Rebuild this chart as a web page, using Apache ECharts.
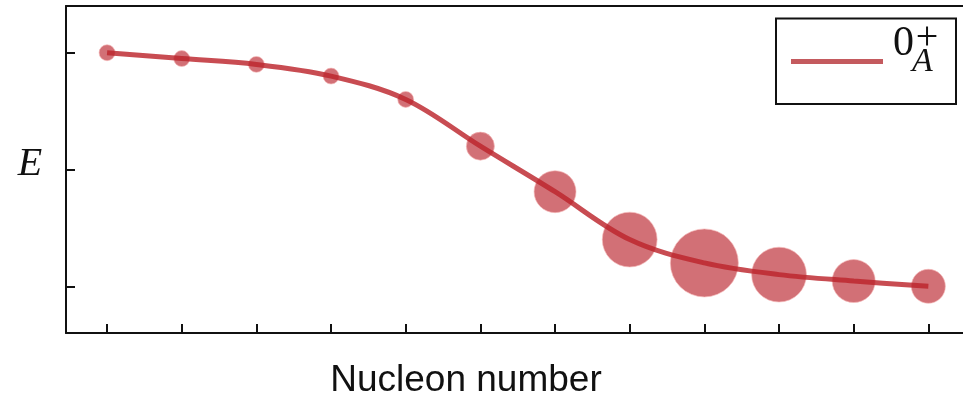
<!DOCTYPE html>
<html>
<head>
<meta charset="utf-8">
<script src="https://cdn.jsdelivr.net/npm/echarts@6/dist/echarts.min.js"></script>
<style>
  html, body { margin: 0; padding: 0; background: #fff; }
  #chart { width: 963px; height: 401px; }
</style>
</head>
<body>
<div id="chart"></div>
<script>
// Nucleon-number index along the chain
const nucleonIndex = [1, 2, 3, 4, 5, 6, 7, 8, 9, 10, 11, 12];
// Energy of the 0_A^+ state (arbitrary units)
const energy = [2.0, 1.95, 1.9, 1.8, 1.6, 1.2, 0.81, 0.4, 0.2, 0.1, 0.045, 0.0];
// Relative strength carried by each state (bubble area)
const strength = [0.055, 0.055, 0.055, 0.055, 0.055, 0.17, 0.38, 0.65, 1.0, 0.65, 0.40, 0.25];
// Tick positions on both axes (no labels are drawn)
const xTicks = nucleonIndex;
const yTicks = [0, 1, 2];

const points = nucleonIndex.map((n, i) => [n, energy[i], strength[i]]);

const chart = echarts.init(document.getElementById('chart'), null, { renderer: 'canvas' });

const axisColor = '#111';
const hiddenParts = {
  axisTick: { show: false }, axisLabel: { show: false }, splitLine: { show: false }
};

chart.setOption({
  animation: false,
  backgroundColor: '#fff',
  grid: { left: 66, top: 6, right: 0, height: 327 },
  xAxis: [
    {
      type: 'value', min: 0.45, max: 12.464,
      axisLine: { show: true, onZero: false, lineStyle: { color: axisColor, width: 2 } },
      axisTick: { show: true, inside: true, length: 9, customValues: xTicks,
                  lineStyle: { color: axisColor, width: 2 } },
      axisLabel: { show: false },
      splitLine: { show: false }
    },
    // frame line along the top of the plot
    Object.assign({
      type: 'value', position: 'top', min: 0.45, max: 12.464,
      axisLine: { show: true, onZero: false, lineStyle: { color: axisColor, width: 2 } }
    }, hiddenParts)
  ],
  yAxis: {
    type: 'value', min: -0.4, max: 2.4,
    axisLine: { show: true, onZero: false, lineStyle: { color: axisColor, width: 2 } },
    axisTick: { show: true, inside: true, length: 9, customValues: yTicks,
                lineStyle: { color: axisColor, width: 2 } },
    axisLabel: { show: false },
    splitLine: { show: false }
  },
  series: [
    {
      type: 'scatter',
      data: points,
      symbolSize: v => 68 * Math.sqrt(v[2]),
      itemStyle: {
        color: 'rgba(188,42,50,0.84)',
        borderColor: 'rgba(245,185,185,0.8)',
        borderWidth: 1
      },
      z: 2
    },
    {
      type: 'line',
      data: points,
      smooth: 0.35,
      showSymbol: false,
      lineStyle: { color: 'rgba(188,36,44,0.82)', width: 5 },
      z: 3
    }
  ],
  graphic: [
    {
      type: 'text',
      x: 30, y: 164,
      style: {
        text: 'E', fill: '#111',
        font: 'italic 40px "Liberation Serif", "DejaVu Serif", serif',
        align: 'center', verticalAlign: 'middle'
      }
    },
    {
      type: 'text',
      x: 466, y: 381,
      style: {
        text: 'Nucleon number', fill: '#111',
        font: '37px "Liberation Sans", Arial, sans-serif',
        align: 'center', verticalAlign: 'middle'
      }
    },
    // legend box
    {
      type: 'rect',
      shape: { x: 776, y: 18.5, width: 180, height: 85.5 },
      style: { fill: '#fff', stroke: '#111', lineWidth: 2 },
      z: 10
    },
    {
      type: 'line',
      shape: { x1: 791, y1: 61.5, x2: 883, y2: 61.5 },
      style: { stroke: '#c45a5e', lineWidth: 5 },
      z: 11
    },
    {
      type: 'text',
      x: 893, y: 65,
      style: {
        text: '0', fill: '#111',
        font: '42px "Liberation Serif", serif',
        align: 'left', verticalAlign: 'bottom'
      },
      z: 11
    },
    {
      type: 'text',
      x: 927, y: 38,
      style: {
        text: '+', fill: '#111',
        font: '40px "Liberation Serif", serif',
        align: 'center', verticalAlign: 'middle'
      },
      z: 11
    },
    {
      type: 'text',
      x: 912, y: 79,
      style: {
        text: 'A', fill: '#111',
        font: 'italic 34px "Liberation Serif", serif',
        align: 'left', verticalAlign: 'bottom'
      },
      z: 11
    }
  ]
});
</script>
</body>
</html>
